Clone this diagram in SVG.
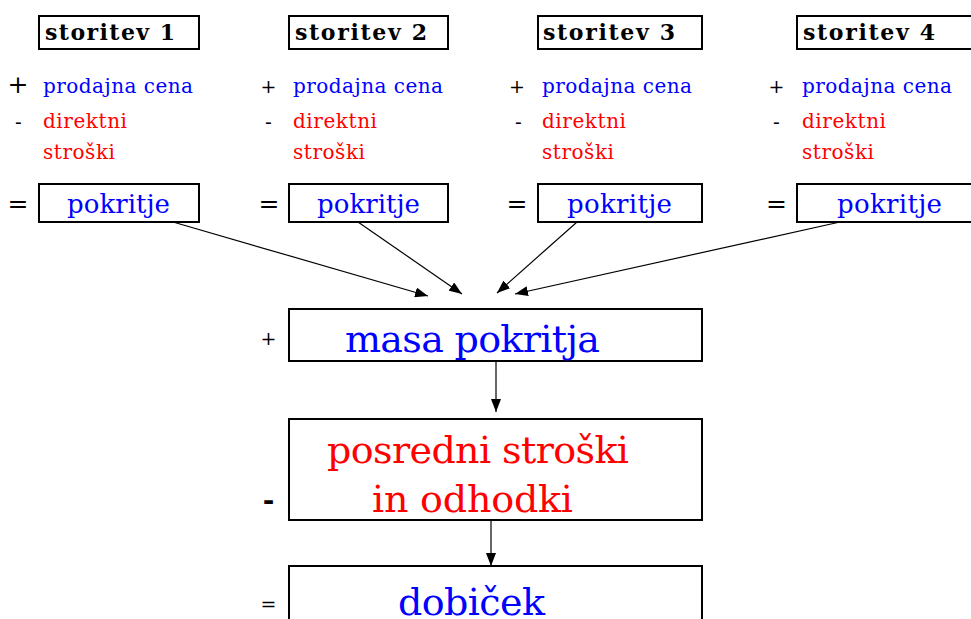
<svg xmlns="http://www.w3.org/2000/svg" width="971" height="619" viewBox="0 0 971 619" font-family="DejaVu Serif, serif">
  <style>
    .box { fill: #ffffff; stroke: #000000; stroke-width: 2; }
    .title { font-weight: bold; font-size: 22px; fill: #000000; }
    .sign { fill: #000000; text-anchor: middle; }
    .blue { fill: #0000ff; }
    .red { fill: #ff0000; }
    .small { font-size: 20px; }
    .mid { font-size: 26px; }
    .big { font-size: 38px; }
    .conn { stroke: #000000; stroke-width: 1.2; fill: none; marker-end: url(#arrow); }
  </style>
  <defs>
    <marker id="arrow" markerUnits="userSpaceOnUse" markerWidth="14" markerHeight="10" refX="13" refY="5" orient="auto">
      <path d="M0,0 L13,5 L0,10 z" fill="#000000"/>
    </marker>
  </defs>
  <rect width="971" height="619" fill="#ffffff"/>

  <!-- service 1 -->
  <g id="storitev1">
    <rect class="box" x="39" y="16" width="160" height="33"/>
    <text class="title" x="45" y="40" textLength="130" lengthAdjust="spacing">storitev 1</text>
    <text class="sign" x="18" y="93" font-size="25">+</text>
    <text class="blue small" x="43" y="93" textLength="150" lengthAdjust="spacing">prodajna cena</text>
    <text class="sign" x="18.5" y="129" font-size="20">-</text>
    <text class="red small" x="43" y="128" textLength="84" lengthAdjust="spacing">direktni</text>
    <text class="red small" x="43" y="159" textLength="72" lengthAdjust="spacing">stroški</text>
    <text class="sign" x="18" y="212" font-size="25">=</text>
    <rect class="box" x="39" y="184" width="160" height="38"/>
    <text class="blue mid" x="67" y="213" textLength="103" lengthAdjust="spacing">pokritje</text>
  </g>

  <!-- service 2 -->
  <g id="storitev2">
    <rect class="box" x="289" y="16" width="159" height="33"/>
    <text class="title" x="295" y="40" textLength="132" lengthAdjust="spacing">storitev 2</text>
    <text class="sign" x="268.5" y="93" font-size="19">+</text>
    <text class="blue small" x="293" y="93" textLength="150" lengthAdjust="spacing">prodajna cena</text>
    <text class="sign" x="268.5" y="129" font-size="20">-</text>
    <text class="red small" x="293" y="128" textLength="84" lengthAdjust="spacing">direktni</text>
    <text class="red small" x="293" y="159" textLength="72" lengthAdjust="spacing">stroški</text>
    <text class="sign" x="269" y="212" font-size="25">=</text>
    <rect class="box" x="289" y="184" width="159" height="38"/>
    <text class="blue mid" x="317" y="213" textLength="103" lengthAdjust="spacing">pokritje</text>
  </g>

  <!-- service 3 -->
  <g id="storitev3">
    <rect class="box" x="538" y="16" width="164" height="33"/>
    <text class="title" x="543" y="40" textLength="132" lengthAdjust="spacing">storitev 3</text>
    <text class="sign" x="517" y="93" font-size="19">+</text>
    <text class="blue small" x="542" y="93" textLength="150" lengthAdjust="spacing">prodajna cena</text>
    <text class="sign" x="518.5" y="129" font-size="20">-</text>
    <text class="red small" x="542" y="128" textLength="84" lengthAdjust="spacing">direktni</text>
    <text class="red small" x="542" y="159" textLength="72" lengthAdjust="spacing">stroški</text>
    <text class="sign" x="517" y="212" font-size="25">=</text>
    <rect class="box" x="538" y="184" width="164" height="38"/>
    <text class="blue mid" x="567" y="213" textLength="105" lengthAdjust="spacing">pokritje</text>
  </g>

  <!-- service 4 -->
  <g id="storitev4">
    <rect class="box" x="797" y="16" width="190" height="33"/>
    <text class="title" x="803" y="40" textLength="132" lengthAdjust="spacing">storitev 4</text>
    <text class="sign" x="776.5" y="93" font-size="19">+</text>
    <text class="blue small" x="802" y="93" textLength="150" lengthAdjust="spacing">prodajna cena</text>
    <text class="sign" x="776.5" y="129" font-size="20">-</text>
    <text class="red small" x="802" y="128" textLength="84" lengthAdjust="spacing">direktni</text>
    <text class="red small" x="802" y="159" textLength="72" lengthAdjust="spacing">stroški</text>
    <text class="sign" x="776.5" y="212" font-size="25">=</text>
    <rect class="box" x="797" y="184" width="190" height="38"/>
    <text class="blue mid" x="837" y="213" textLength="105" lengthAdjust="spacing">pokritje</text>
  </g>

  <!-- total contribution -->
  <g id="masa">
    <text class="sign" x="268.5" y="345" font-size="19">+</text>
    <rect class="box" x="289" y="309" width="413" height="52"/>
    <text class="blue big" x="345" y="352" textLength="255" lengthAdjust="spacing">masa pokritja</text>
  </g>

  <!-- indirect costs -->
  <g id="posredni">
    <text class="sign" x="268.5" y="510" font-size="28" font-weight="bold">-</text>
    <rect class="box" x="289" y="419" width="413" height="101"/>
    <text class="red big" x="327" y="463" textLength="302" lengthAdjust="spacing">posredni stroški</text>
    <text class="red big" x="372" y="512" textLength="201" lengthAdjust="spacing">in odhodki</text>
  </g>

  <!-- profit -->
  <g id="dobicek">
    <text class="sign" x="268.5" y="611" font-size="19">=</text>
    <rect class="box" x="289" y="566" width="413" height="70"/>
    <text class="blue big" x="398" y="615" textLength="147" lengthAdjust="spacing">dobiček</text>
  </g>

  <!-- connectors -->
  <g id="connectors">
    <line class="conn" x1="173" y1="222" x2="428" y2="296"/>
    <line class="conn" x1="358" y1="222" x2="462" y2="294"/>
    <line class="conn" x1="577" y1="222" x2="497" y2="293"/>
    <line class="conn" x1="840" y1="222" x2="515" y2="294"/>
    <line class="conn" x1="496" y1="361" x2="496" y2="412"/>
    <line class="conn" x1="491" y1="520" x2="491" y2="566"/>
  </g>
</svg>
